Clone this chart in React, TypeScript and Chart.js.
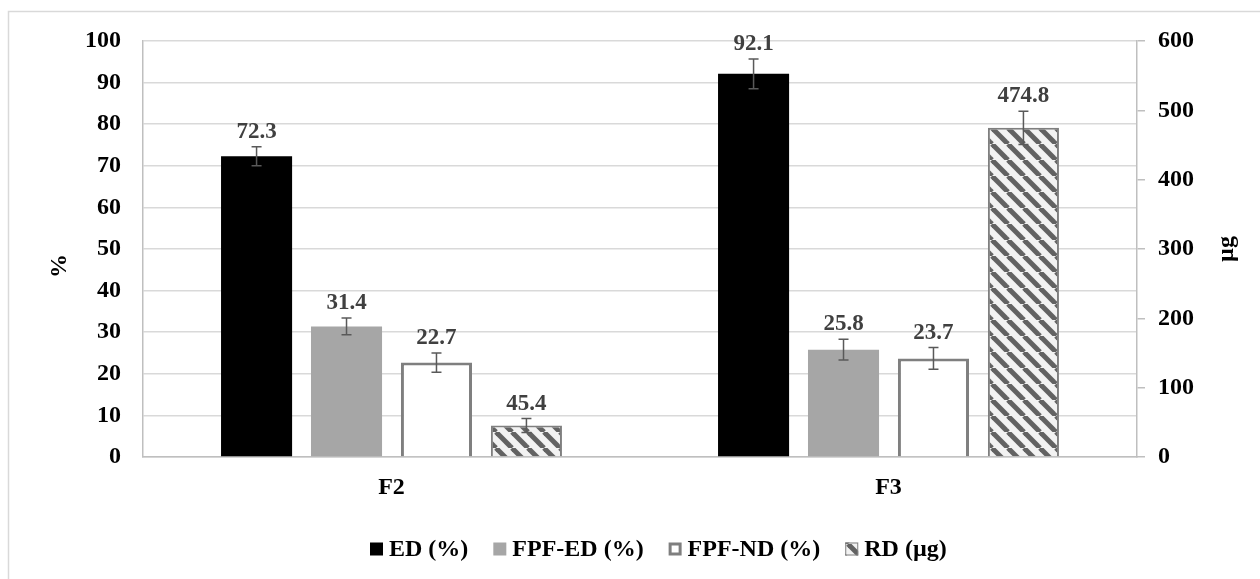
import React, { useEffect, useRef } from 'react';
import { Chart, registerables } from 'chart.js';

Chart.register(...registerables);

// ---- data ----
const categories = ['F2', 'F3'];
const seriesNames = ['ED (%)', 'FPF-ED (%)', 'FPF-ND (%)', 'RD (µg)'];
const edValues = [72.3, 92.1];
const fpfEdValues = [31.4, 25.8];
const fpfNdValues = [22.7, 23.7];
const rdValues = [45.4, 474.8];
const edErrors = [2.3, 3.6];
const fpfEdErrors = [2.0, 2.5];
const fpfNdErrors = [2.3, 2.6];
const rdErrors = [10, 24];
const leftAxisRange = [0, 100, 10];
const rightAxisRange = [0, 600, 100];
const leftAxisTitle = '%';
const rightAxisTitle = 'µg';

const FONT = "'Liberation Serif', 'Times New Roman', serif";

function makeHatch(): CanvasPattern | string {
  const s = 16;
  const c = document.createElement('canvas');
  c.width = s;
  c.height = s;
  const g = c.getContext('2d');
  if (!g) return '#cccccc';
  g.fillStyle = '#f2f2f2';
  g.fillRect(0, 0, s, s);
  g.strokeStyle = '#626262';
  g.lineWidth = 5;
  for (let k = -1; k <= 1; k++) {
    g.beginPath();
    g.moveTo(k * s, 0);
    g.lineTo(k * s + s, s);
    g.stroke();
  }
  const p = g.createPattern(c, 'repeat');
  return p || '#cccccc';
}

export default function App() {
  const ref = useRef<HTMLCanvasElement | null>(null);

  useEffect(() => {
    const canvas = ref.current;
    if (!canvas) return;
    const hatch = makeHatch();

    const errorsBySeries = [edErrors, fpfEdErrors, fpfNdErrors, rdErrors];

    const legendItems = [
      { text: seriesNames[0], fill: '#000000', stroke: null as string | null, lw: 0 },
      { text: seriesNames[1], fill: '#a6a6a6', stroke: null, lw: 0 },
      { text: seriesNames[2], fill: '#ffffff', stroke: '#7f7f7f', lw: 3 },
      { text: seriesNames[3], fill: hatch as any, stroke: '#7f7f7f', lw: 1 },
    ];

    const extras = {
      id: 'extras',
      beforeDraw(chart: any) {
        const ctx = chart.ctx;
        ctx.save();
        ctx.strokeStyle = '#d9d9d9';
        ctx.lineWidth = 1.5;
        ctx.beginPath();
        ctx.moveTo(8.5, chart.height);
        ctx.lineTo(8.5, 11.5);
        ctx.lineTo(chart.width, 11.5);
        ctx.stroke();
        ctx.restore();
      },
      afterDatasetsDraw(chart: any) {
        const ctx = chart.ctx;
        ctx.save();
        chart.data.datasets.forEach((ds: any, i: number) => {
          const meta = chart.getDatasetMeta(i);
          const scale = chart.scales[ds.yAxisID];
          const errs = errorsBySeries[i];
          meta.data.forEach((el: any, j: number) => {
            const v = ds.data[j];
            const e = errs[j];
            const x = el.x;
            const yt = scale.getPixelForValue(v + e);
            const yb = scale.getPixelForValue(v - e);
            ctx.strokeStyle = '#595959';
            ctx.lineWidth = 1.5;
            ctx.beginPath();
            ctx.moveTo(x, yt);
            ctx.lineTo(x, yb);
            ctx.moveTo(x - 5, yt);
            ctx.lineTo(x + 5, yt);
            ctx.moveTo(x - 5, yb);
            ctx.lineTo(x + 5, yb);
            ctx.stroke();
            ctx.fillStyle = '#404040';
            ctx.font = `bold 23px ${FONT}`;
            ctx.textAlign = 'center';
            ctx.textBaseline = 'alphabetic';
            ctx.fillText(v.toFixed(1), x, yt - 9);
          });
        });
        ctx.restore();
      },
      afterDraw(chart: any) {
        const ctx = chart.ctx;
        const area = chart.chartArea;
        ctx.save();
        ctx.fillStyle = '#000000';
        ctx.font = `bold 24px ${FONT}`;
        ctx.textAlign = 'center';
        ctx.textBaseline = 'middle';
        // left axis title
        ctx.save();
        ctx.translate(60, (area.top + area.bottom) / 2 + 17);
        ctx.rotate(-Math.PI / 2);
        ctx.fillText(leftAxisTitle, 0, 0);
        ctx.restore();
        // right axis title
        ctx.save();
        ctx.translate(1227, (area.top + area.bottom) / 2);
        ctx.rotate(-Math.PI / 2);
        ctx.fillText(rightAxisTitle, 0, 0);
        ctx.restore();

        // legend
        const box = 13;
        const gapText = 6;
        const gapItem = 25;
        ctx.font = `bold 24px ${FONT}`;
        const widths = legendItems.map((it) => ctx.measureText(it.text).width);
        let x = 370;
        const cy = 549;
        legendItems.forEach((it, k) => {
          ctx.fillStyle = it.fill;
          ctx.fillRect(x, cy - box / 2, box, box);
          if (it.stroke) {
            ctx.strokeStyle = it.stroke;
            ctx.lineWidth = it.lw;
            ctx.strokeRect(x + it.lw / 2, cy - box / 2 + it.lw / 2, box - it.lw, box - it.lw);
          }
          ctx.fillStyle = '#000000';
          ctx.textAlign = 'left';
          ctx.textBaseline = 'middle';
          ctx.fillText(it.text, x + box + gapText, cy + 1);
          x += box + gapText + widths[k] + gapItem;
        });
        ctx.restore();
      },
    };

    const tickFont = { family: FONT, size: 24, weight: 'bold' as const };

    const chart = new Chart(canvas, {
      type: 'bar',
      data: {
        labels: categories,
        datasets: [
          { label: seriesNames[0], data: edValues, backgroundColor: '#000000', yAxisID: 'y', borderWidth: 0 },
          { label: seriesNames[1], data: fpfEdValues, backgroundColor: '#a6a6a6', yAxisID: 'y', borderWidth: 0 },
          { label: seriesNames[2], data: fpfNdValues, backgroundColor: '#ffffff', borderColor: '#7f7f7f', borderWidth: 3, yAxisID: 'y' },
          { label: seriesNames[3], data: rdValues, backgroundColor: hatch as any, borderColor: '#7f7f7f', borderWidth: 2, yAxisID: 'y1' },
        ],
      },
      options: {
        responsive: false,
        animation: false,
        devicePixelRatio: 1,
        layout: { padding: { top: 41, left: 0, right: 0, bottom: 0 } },
        datasets: { bar: { barPercentage: 0.79, categoryPercentage: 0.724 } },
        plugins: { legend: { display: false }, tooltip: { enabled: false }, title: { display: false } },
        scales: {
          x: {
            grid: { display: false },
            border: { display: true, color: '#bfbfbf', width: 1.5 },
            ticks: { font: tickFont, color: '#000000', padding: 8 },
            afterFit: (s: any) => { s.height = 122; },
          },
          y: {
            position: 'left',
            min: leftAxisRange[0],
            max: leftAxisRange[1],
            ticks: { stepSize: leftAxisRange[2], font: tickFont, color: '#000000', padding: 22 },
            grid: { color: '#d9d9d9', lineWidth: 1.5, drawTicks: false },
            border: { display: true, color: '#bfbfbf', width: 1.5 },
            afterFit: (s: any) => { s.width = 143; },
          },
          y1: {
            position: 'right',
            min: rightAxisRange[0],
            max: rightAxisRange[1],
            ticks: { stepSize: rightAxisRange[2], font: tickFont, color: '#000000', padding: 13 },
            grid: { drawOnChartArea: false, color: '#bfbfbf', lineWidth: 1.5, tickLength: 8 },
            border: { display: true, color: '#bfbfbf', width: 1.5 },
            afterFit: (s: any) => { s.width = 123; },
          },
        },
      },
      plugins: [extras],
    });

    return () => chart.destroy();
  }, []);

  return (
    <div style={{ position: 'fixed', left: 0, top: 0, width: 1260, height: 579, background: '#ffffff' }}>
      <canvas ref={ref} width={1260} height={579} style={{ width: 1260, height: 579, display: 'block' }} />
    </div>
  );
}
